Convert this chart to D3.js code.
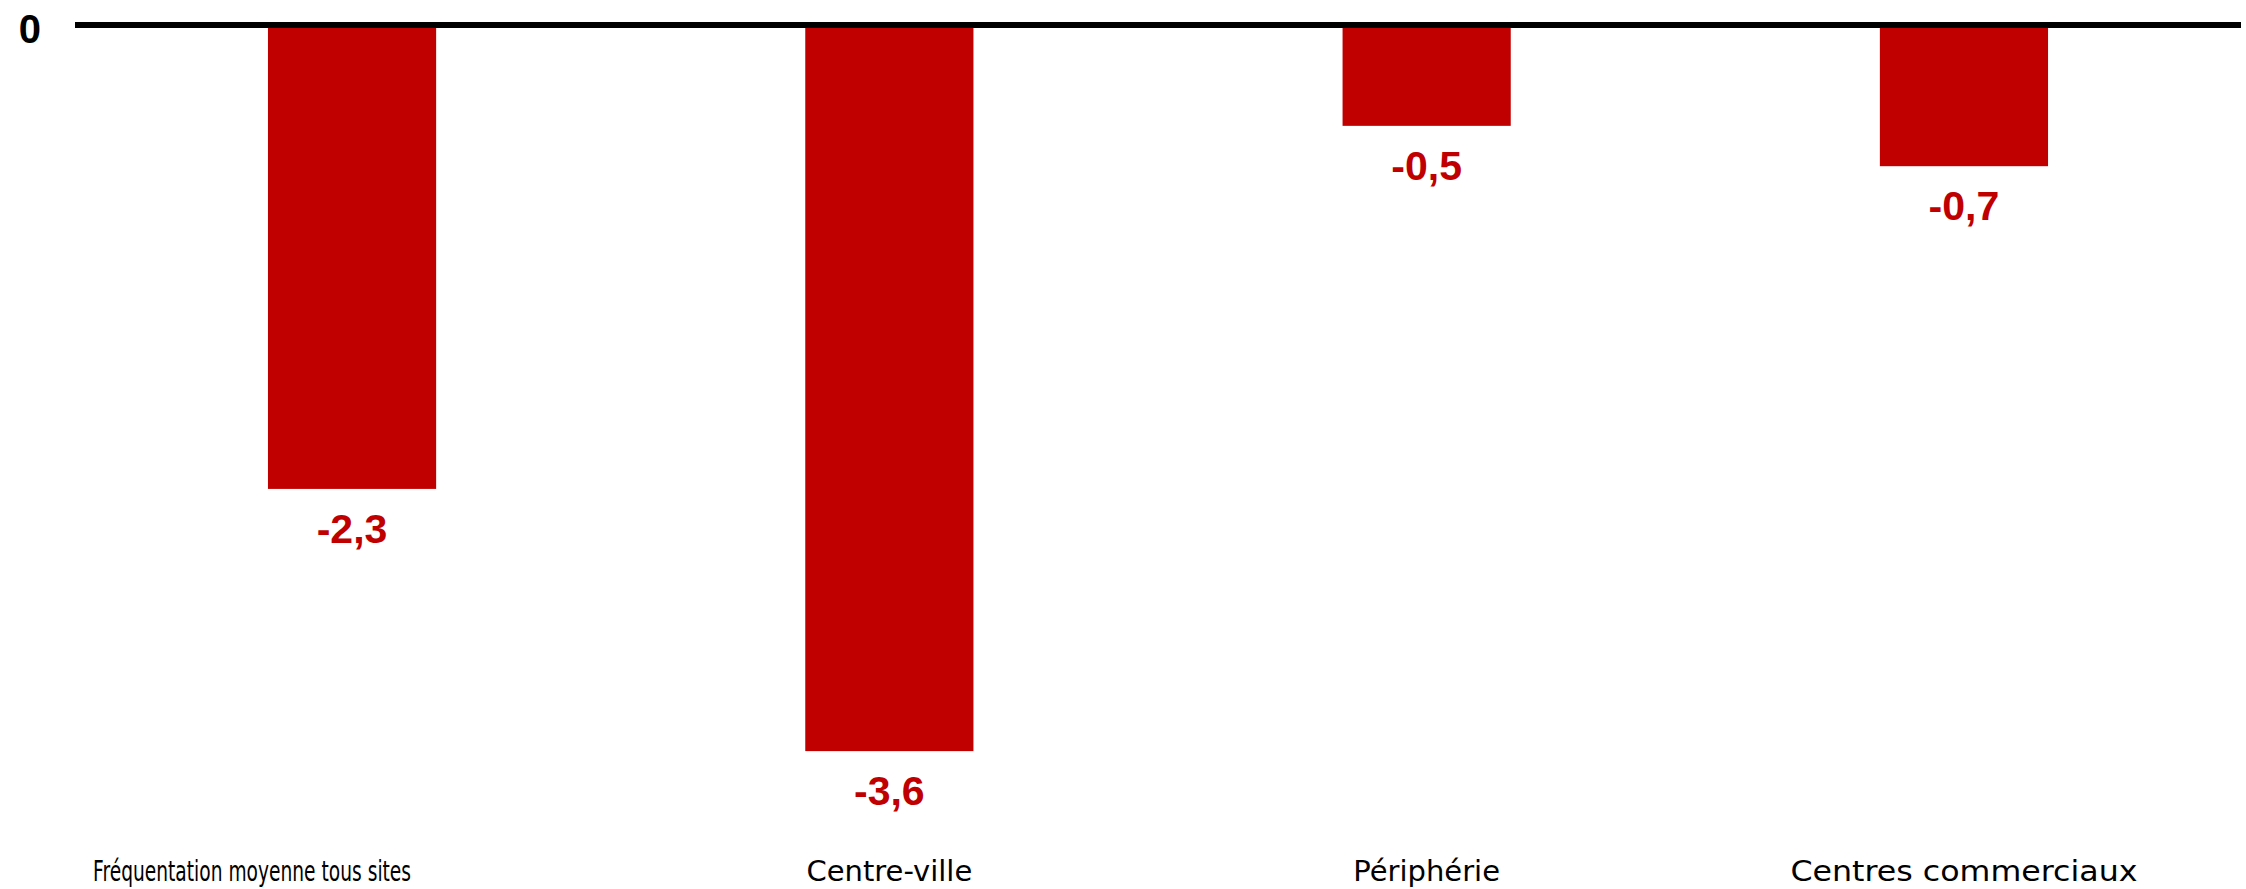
<!DOCTYPE html>
<html>
<head>
<meta charset="utf-8">
<script src="https://cdn.jsdelivr.net/npm/d3@7"></script>
<style>
  html, body { margin: 0; padding: 0; background: #ffffff; }
  svg { display: block; }
</style>
</head>
<body>
<div id="chart"></div>
<script>
// Evolution de la fréquentation par type de site (points)
const categories = [
  "Fréquentation moyenne tous sites",
  "Centre-ville",
  "Périphérie",
  "Centres commerciaux"
];
const values = [-2.3, -3.6, -0.5, -0.7];
const zeroTickLabel = "0";

const width = 2246, height = 889;
const barColor = "#C00000";

const svg = d3.select("#chart").append("svg")
  .attr("width", width)
  .attr("height", height);

const x = d3.scaleBand()
  .domain(categories)
  .range([83.4, 2232.6])
  .paddingInner(0.687)
  .paddingOuter(0.3435);

const y = d3.scaleLinear()
  .domain([-4, 0])
  .range([25 + 4 * 201.7, 25]);

const fmt = v => d3.format(".1f")(v).replace(".", ",").replace("−", "-");

// bars hanging from zero
svg.append("g").selectAll("rect")
  .data(values)
  .join("rect")
  .attr("x", (d, i) => x(categories[i]))
  .attr("width", x.bandwidth())
  .attr("y", y(0))
  .attr("height", d => y(d) - y(0))
  .attr("fill", barColor);

// value labels under each bar
svg.append("g").selectAll("text")
  .data(values)
  .join("text")
  .attr("x", (d, i) => x(categories[i]) + x.bandwidth() / 2)
  .attr("y", d => y(d) + 54)
  .attr("text-anchor", "middle")
  .attr("font-family", "'Century Gothic', 'Liberation Sans', Arial, sans-serif")
  .attr("font-weight", "bold")
  .attr("font-size", 41)
  .attr("fill", barColor)
  .text(d => fmt(d));

// zero axis line
svg.append("line")
  .attr("x1", 75)
  .attr("x2", 2241)
  .attr("y1", y(0))
  .attr("y2", y(0))
  .attr("stroke", "#000")
  .attr("stroke-width", 6);

// zero tick label
svg.append("text")
  .attr("x", 41)
  .attr("y", y(0) + 18)
  .attr("text-anchor", "end")
  .attr("font-family", "'Liberation Sans', Arial, sans-serif")
  .attr("font-weight", "bold")
  .attr("font-size", 40)
  .attr("fill", "#000")
  .text(zeroTickLabel);

// category labels along the bottom; the long first one is set condensed
const labelShift = [-100, 0, 0, 0];
const labelFit = [318, null, null, 347];
svg.append("g").selectAll("text")
  .data(categories)
  .join("text")
  .attr("x", (d, i) => x(d) + x.bandwidth() / 2 + labelShift[i])
  .attr("y", 881)
  .attr("text-anchor", "middle")
  .attr("font-family", "'Century Gothic', 'DejaVu Sans', sans-serif")
  .attr("font-size", 29)
  .attr("fill", "#000")
  .each(function(d, i) {
    if (labelFit[i]) {
      d3.select(this)
        .attr("textLength", labelFit[i])
        .attr("lengthAdjust", "spacingAndGlyphs");
    }
  })
  .text(d => d);
</script>
</body>
</html>
